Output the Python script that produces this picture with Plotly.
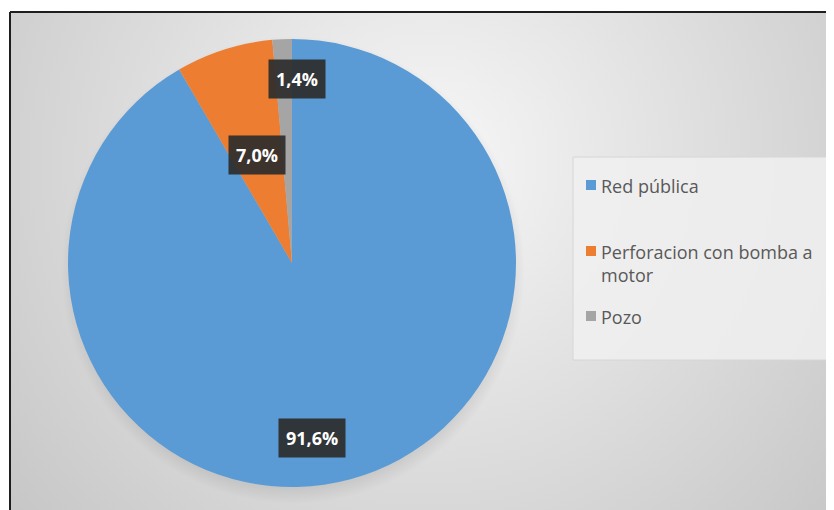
import base64
import plotly.graph_objects as go

# ---- data ----
labels = ["Red pública", "Perforacion con bomba a motor", "Pozo"]
legend_text = ["Red pública", "Perforacion con bomba a<br>motor", "Pozo"]
values = [91.6, 7.0, 1.4]
value_text = ["91,6%", "7,0%", "1,4%"]
colors = ["#5B9BD5", "#ED7D31", "#A5A5A5"]

# the page body has an 8px margin, so the figure is 8px smaller than the window
OFF = 8
W, H = 834 - OFF, 510 - OFF


def px(x):
    return (x - OFF) / W


def py(y):
    return 1 - (y - OFF) / H


# background gradient (radial, Office style)
bw, bh = 834 - 10, 510 - 12
svg = f'''<svg xmlns="http://www.w3.org/2000/svg" width="{bw}" height="{bh}" viewBox="0 0 {bw} {bh}">
<defs><radialGradient id="g" gradientUnits="userSpaceOnUse" cx="420" cy="150" r="620">
<stop offset="0" stop-color="#f7f7f7"/><stop offset="1" stop-color="#c0c0c0"/></radialGradient>
<radialGradient id="s" cx="0.5" cy="0.5" r="0.5"><stop offset="0.85" stop-color="#000" stop-opacity="0.18"/><stop offset="1" stop-color="#000" stop-opacity="0"/></radialGradient></defs>
<rect width="{bw}" height="{bh}" fill="url(#g)"/>
<ellipse cx="283" cy="258" rx="232" ry="234" fill="url(#s)"/>
</svg>'''
src = "data:image/svg+xml;base64," + base64.b64encode(svg.encode()).decode()

# pie geometry (window pixels)
cx, cy, R = 292, 263, 224

fig = go.Figure(
    go.Pie(
        labels=labels,
        values=values,
        sort=False,
        direction="clockwise",
        rotation=0,
        marker=dict(colors=colors, line=dict(width=0)),
        textinfo="none",
        showlegend=False,
        domain=dict(x=[px(cx - R), px(cx + R)], y=[py(cy + R), py(cy - R)]),
    )
)

shapes = [
    dict(type="line", xref="paper", yref="paper", x0=px(10), x1=1, y0=py(12), y1=py(12),
         line=dict(color="#1e1e1e", width=2)),
    dict(type="line", xref="paper", yref="paper", x0=px(10), x1=px(10), y0=py(12), y1=0,
         line=dict(color="#1e1e1e", width=2)),
    # legend box
    dict(type="rect", xref="paper", yref="paper", x0=px(573), x1=px(827), y0=py(360), y1=py(157),
         fillcolor="rgba(240,240,240,0.85)", line=dict(color="#d6d6d6", width=1), layer="below"),
]

annotations = []
leg_y = [185, 251, 316]
for txt, col, yy in zip(legend_text, colors, leg_y):
    shapes.append(dict(type="rect", xref="paper", yref="paper", x0=px(586), x1=px(596),
                       y0=py(yy + 5), y1=py(yy - 5), fillcolor=col, line=dict(width=0)))
    annotations.append(dict(xref="paper", yref="paper", x=px(599), y=py(yy - 13),
                            xanchor="left", yanchor="top", align="left", showarrow=False,
                            text=txt, font=dict(family="Open Sans", size=18, color="#595959")))

# data labels (dark callout boxes)
label_pos = [(312, 438), (257, 155), (297, 79)]
for t, (lx, ly) in zip(value_text, label_pos):
    annotations.append(dict(xref="paper", yref="paper", x=px(lx), y=py(ly),
                            xanchor="center", yanchor="middle", showarrow=False,
                            text=f"<b>{t}</b>", bgcolor="rgba(45,45,45,0.92)", borderpad=7,
                            font=dict(family="Open Sans", size=18, color="white")))

fig.update_layout(
    width=W, height=H,
    margin=dict(l=0, r=0, t=0, b=0),
    paper_bgcolor="white",
    plot_bgcolor="white",
    images=[dict(source=src, xref="paper", yref="paper", x=px(10), y=py(12),
                 sizex=bw / W, sizey=bh / H, xanchor="left", yanchor="top",
                 sizing="stretch", layer="below")],
    shapes=shapes,
    annotations=annotations,
)

fig.write_html("out.html")
